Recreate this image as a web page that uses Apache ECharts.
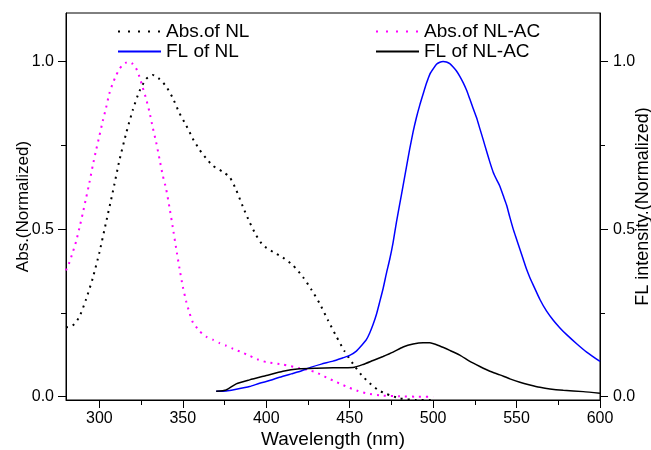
<!DOCTYPE html>
<html><head><meta charset="utf-8">
<script src="https://cdn.jsdelivr.net/npm/echarts@6/dist/echarts.min.js"></script>
<style>html,body{margin:0;padding:0;background:#fff}#c{width:651px;height:450px}</style>
</head><body><div id="c"></div>
<script>
// ---- Data ----
const absNL_x = [280,284,288,292,296,300,304,308,312,316,320,324,328,332,336,340,344,348,352,356,360,364,368,374,378,382,386,390,394,398,404,410,416,422,427,432,437,442,447,452,457,462,467,472,480,490,500];
const absNL_y = [0.207,0.212,0.238,0.290,0.353,0.430,0.520,0.610,0.705,0.785,0.855,0.912,0.948,0.960,0.948,0.926,0.891,0.846,0.810,0.770,0.737,0.711,0.689,0.671,0.656,0.617,0.567,0.521,0.481,0.452,0.432,0.415,0.392,0.357,0.320,0.278,0.228,0.180,0.135,0.098,0.065,0.040,0.020,0.008,-0.005,-0.010,-0.010];

const absAC_x = [280,282,284,286,288,290,292,294,296,298,300,302,304,306,308,310,312,314,316,318,320,322,324,326,328,330,332,334,336,338,340,342,344,346,348,350,352,354,356,360,364,368,372,376,380,385,390,395,400,410,420,425,430,435,440,445,450,455,460,470,480,490,500];
const absAC_y = [0.377,0.400,0.430,0.462,0.503,0.546,0.592,0.638,0.689,0.735,0.778,0.822,0.862,0.905,0.935,0.958,0.978,0.990,0.997,0.999,0.993,0.980,0.955,0.922,0.889,0.850,0.803,0.760,0.710,0.660,0.620,0.565,0.505,0.443,0.383,0.328,0.285,0.250,0.222,0.196,0.179,0.170,0.160,0.152,0.143,0.133,0.122,0.111,0.103,0.096,0.085,0.080,0.072,0.060,0.048,0.037,0.026,0.017,0.010,0.003,0.001,0.000,0.000];

const flNL_x = [370,376,382,390,396,402,408,415,420,427,433,440,446,450,454,457,460,462,464,466,468,470,472,474,476,478,480,482,484,486,488,490,492,494,496,498,500,502,504,506,508,510,512,514,516,518,520,522,524,526,528,530,532,534,536,538,540,542,544,546,548,550,552,554,556,558,560,564,568,572,576,580,586,592,600];
const flNL_y = [0.016,0.017,0.022,0.030,0.040,0.048,0.058,0.068,0.075,0.088,0.097,0.106,0.116,0.123,0.136,0.152,0.170,0.190,0.215,0.245,0.283,0.322,0.368,0.410,0.460,0.520,0.575,0.630,0.685,0.740,0.790,0.833,0.870,0.903,0.935,0.962,0.978,0.992,0.998,1.000,0.999,0.994,0.984,0.972,0.956,0.937,0.915,0.888,0.860,0.833,0.800,0.767,0.733,0.700,0.670,0.648,0.628,0.600,0.572,0.535,0.500,0.470,0.440,0.410,0.380,0.355,0.333,0.290,0.255,0.228,0.205,0.185,0.158,0.133,0.105];

const flAC_x = [370,376,382,390,400,410,420,430,440,452,458,464,470,476,482,488,494,498,504,510,516,522,528,534,540,546,552,558,564,570,578,590,600];
const flAC_y = [0.016,0.020,0.038,0.050,0.063,0.076,0.083,0.085,0.086,0.087,0.096,0.108,0.120,0.133,0.148,0.157,0.161,0.161,0.151,0.138,0.124,0.105,0.090,0.076,0.065,0.053,0.043,0.035,0.028,0.023,0.019,0.015,0.010];

const xTicks = [300,350,400,450,500,550,600];
const xMinorTicks = [325,375,425,475,525,575];
const yTicks = [0,0.5,1.0];
const yMinorTicks = [0.25,0.75];

const names = ['Abs.of NL','Abs.of NL-AC','FL of NL','FL of NL-AC'];

// ---- Chart ----
const FONT = '"Liberation Sans", Arial, sans-serif';
const pairs = (xs, ys) => xs.map((x, i) => [x, ys[i]]);
const chart = echarts.init(document.getElementById('c'), null, {renderer: 'canvas'});

const X_MIN = 280, X_MAX = 600, Y_MIN = -0.01, Y_MAX = 1.145;

function majorX() {
  return {
    type: 'value', min: X_MIN, max: X_MAX, position: 'bottom',
    axisLine: {show: true, onZero: false, lineStyle: {color: '#000', width: 1}},
    axisTick: {show: true, customValues: xTicks, length: 8, lineStyle: {color: '#000'}},
    axisLabel: {customValues: xTicks, color: '#000', fontSize: 16, fontFamily: FONT, margin: 11},
    splitLine: {show: false},
    name: 'Wavelength (nm)', nameLocation: 'middle', nameGap: 30, nameMoveOverlap: false,
    nameTextStyle: {fontSize: 19, color: '#000', fontFamily: FONT}
  };
}
function minorX() {
  return {
    type: 'value', min: X_MIN, max: X_MAX, position: 'bottom',
    axisLine: {show: false, onZero: false},
    axisTick: {show: true, customValues: xMinorTicks, length: 5, lineStyle: {color: '#000'}},
    axisLabel: {show: false}, splitLine: {show: false}
  };
}
function majorY(pos, name, gap, size, margin) {
  return {
    type: 'value', min: Y_MIN, max: Y_MAX, position: pos,
    axisLine: {show: true, onZero: false, lineStyle: {color: '#000', width: 1}},
    axisTick: {show: true, customValues: yTicks, length: 8, lineStyle: {color: '#000'}},
    axisLabel: {customValues: yTicks, color: '#000', fontSize: 16, fontFamily: FONT, margin: margin,
      formatter: v => Number(v).toFixed(1)},
    splitLine: {show: false},
    name: name, nameLocation: 'middle', nameGap: gap, nameRotate: 90, nameMoveOverlap: false,
    nameTextStyle: {fontSize: size, color: '#000', fontFamily: FONT}
  };
}
function minorY(pos) {
  return {
    type: 'value', min: Y_MIN, max: Y_MAX, position: pos,
    axisLine: {show: false, onZero: false},
    axisTick: {show: true, customValues: yMinorTicks, length: 5, lineStyle: {color: '#000'}},
    axisLabel: {show: false}, splitLine: {show: false}
  };
}
function leg(name, left, top, lineStyle) {
  const l = {
    data: [name], left: left, top: top, orient: 'horizontal',
    itemWidth: 43, itemHeight: 14, padding: 0, selectedMode: false,
    itemStyle: {opacity: 0},
    textStyle: {fontSize: 19, color: '#000', fontFamily: FONT, lineHeight: 20, padding: [0, 0, 9, 0]}
  };
  if (lineStyle) l.lineStyle = lineStyle;
  return l;
}

chart.setOption({
  animation: false,
  backgroundColor: '#fff',
  grid: {left: 66, right: 51, top: 13, bottom: 50, show: true, borderColor: '#000', borderWidth: 1,
         backgroundColor: 'transparent', containLabel: false, outerBoundsMode: 'none'},
  xAxis: [majorX(), minorX()],
  yAxis: [
    majorY('left', 'Abs.(Normalized)', 34, 17, 12),
    majorY('right', 'FL intensity.(Normalized)', 34, 18, 13),
    minorY('left'), minorY('right')
  ],
  legend: [
    leg(names[0], 117, 17, {type: [2, 8], width: 2}),
    leg(names[1], 375, 17, {type: [2, 8], width: 2}),
    leg(names[2], 117, 37),
    leg(names[3], 375, 37)
  ],
  series: [
    {name: names[0], type: 'line', xAxisIndex: 0, yAxisIndex: 0, data: pairs(absNL_x, absNL_y),
     symbol: 'none', showSymbol: false, smooth: 0.2,
     itemStyle: {color: '#000'}, lineStyle: {color: '#000', width: 2, type: [2, 5]}},
    {name: names[1], type: 'line', xAxisIndex: 0, yAxisIndex: 0, data: pairs(absAC_x, absAC_y),
     symbol: 'none', showSymbol: false, smooth: 0.2,
     itemStyle: {color: '#ff00ff'}, lineStyle: {color: '#ff00ff', width: 2, type: [2, 5]}},
    {name: names[2], type: 'line', xAxisIndex: 0, yAxisIndex: 1, data: pairs(flNL_x, flNL_y),
     symbol: 'none', showSymbol: false, smooth: 0.2,
     itemStyle: {color: '#0000ff'}, lineStyle: {color: '#0000ff', width: 1.5}},
    {name: names[3], type: 'line', xAxisIndex: 0, yAxisIndex: 1, data: pairs(flAC_x, flAC_y),
     symbol: 'none', showSymbol: false, smooth: 0.2,
     itemStyle: {color: '#000'}, lineStyle: {color: '#000', width: 1.5}}
  ]
});
</script>
</body></html>
